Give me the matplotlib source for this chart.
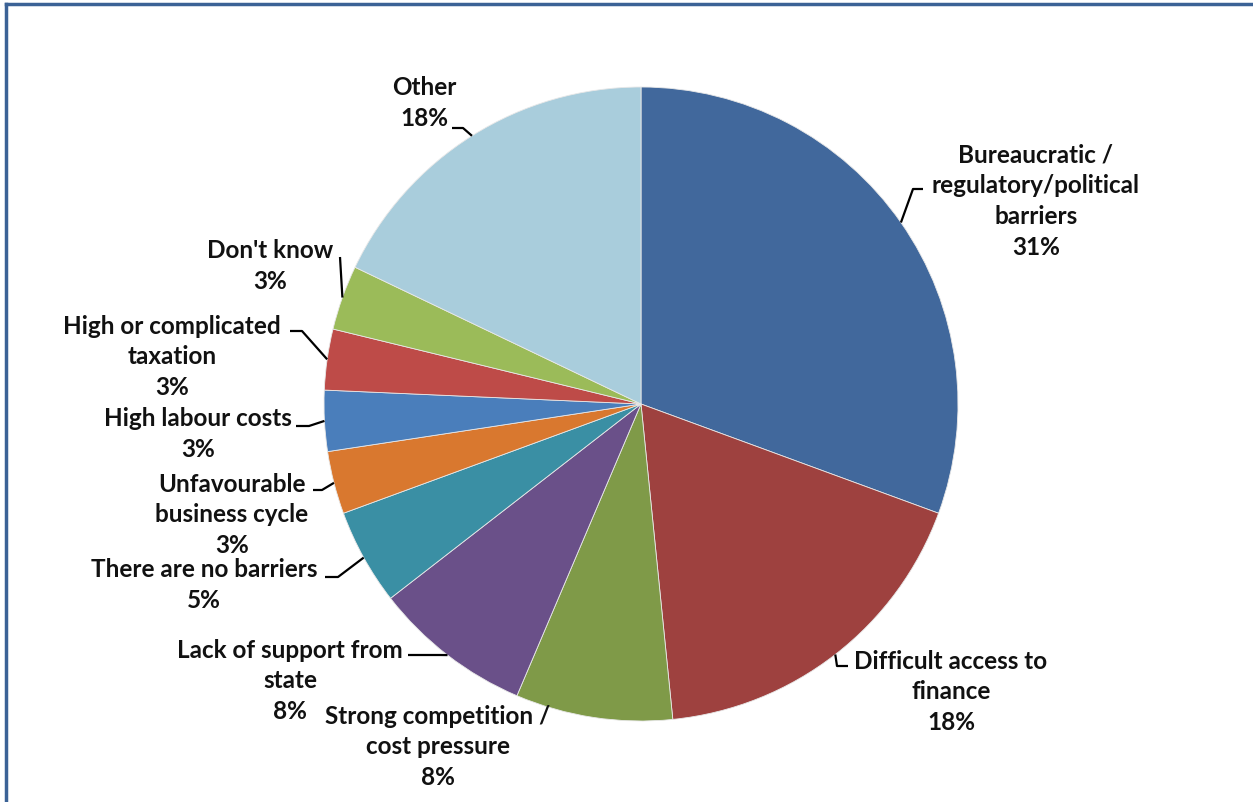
import matplotlib.pyplot as plt
import numpy as np
from matplotlib.lines import Line2D

plt.rcParams['font.family'] = ['Lato', 'DejaVu Sans']

W, H = 1253, 803

categories = [
    "Bureaucratic /\nregulatory/political\nbarriers",
    "Difficult access to\nfinance",
    "Strong competition /\ncost pressure",
    "Lack of support from\nstate",
    "There are no barriers",
    "Unfavourable\nbusiness cycle",
    "High labour costs",
    "High or complicated\ntaxation",
    "Don't know",
    "Other",
]
shares = [30.6, 17.8, 8.0, 8.1, 4.9, 3.2, 3.1, 3.1, 3.3, 17.9]
colors = ["#41689c", "#9e413f", "#7f9a48", "#6a5089", "#3a8fa4",
          "#d9782f", "#4a7ebb", "#be4b48", "#9bbb59", "#a9cddc"]

# label block centres and leader elbows, in pixels from the top-left corner
label_xy = [(1036, 201), (951, 692), (438, 747), (290, 681), (204, 585),
            (232, 515), (198, 434), (172, 357), (270, 266), (424, 103)]
leader_pts = [
    [(923, 190), (913, 190)],
    [(848, 667), (837, 667)],
    None,
    [(408, 656), (440, 656)],
    [(325, 578), (338, 578)],
    [(313, 491), (322, 491)],
    [(296, 427), (309, 427)],
    [(290, 332), (302, 332)],
    [(340, 258)],
    [(452, 129), (463, 129)],
]

cx, cy, r = 641, 405, 317


def px(x, y):
    return x, H - y


fig = plt.figure(figsize=(W / 100, H / 100), dpi=100)
ax = fig.add_axes([0, 0, 1, 1])

ax.pie(shares, colors=colors, startangle=90, counterclock=False,
       center=px(cx, cy), radius=r,
       wedgeprops=dict(edgecolor="#e8e8e8", linewidth=0.6))
ax.set_xlim(0, W)
ax.set_ylim(0, H)
ax.set_aspect('equal')
ax.axis('off')

total = float(np.sum(shares))
cum = np.cumsum([0] + shares[:-1])
for i, (name, val) in enumerate(zip(categories, shares)):
    text = f"{name}\n{round(val / total * 100):d}%"
    ax.text(*px(*label_xy[i]), text, ha='center', va='center',
            fontsize=17.5, fontweight='bold', color='#111111', linespacing=1.42)
    if leader_pts[i] is None:
        continue
    # leader runs from the label elbow to the wedge edge at its mid-angle
    mid = (cum[i] + val / 2) / total * 2 * np.pi
    ex, ey = cx + r * np.sin(mid), cy - r * np.cos(mid)
    pts = leader_pts[i] + [(ex, ey)]
    xs = [p[0] for p in pts]
    ys = [H - p[1] for p in pts]
    ax.plot(xs, ys, color='black', linewidth=1.6, solid_capstyle='butt')

# frame along the top and left edges
frame_color = "#3b6296"
fig.add_artist(Line2D([6 / W, 1], [1 - 5 / H, 1 - 5 / H], color=frame_color,
                      linewidth=2.5, transform=fig.transFigure))
fig.add_artist(Line2D([6 / W, 6 / W], [0, 1 - 5 / H], color=frame_color,
                      linewidth=2.5, transform=fig.transFigure))

fig.savefig("out.png", dpi=100, facecolor='white')
